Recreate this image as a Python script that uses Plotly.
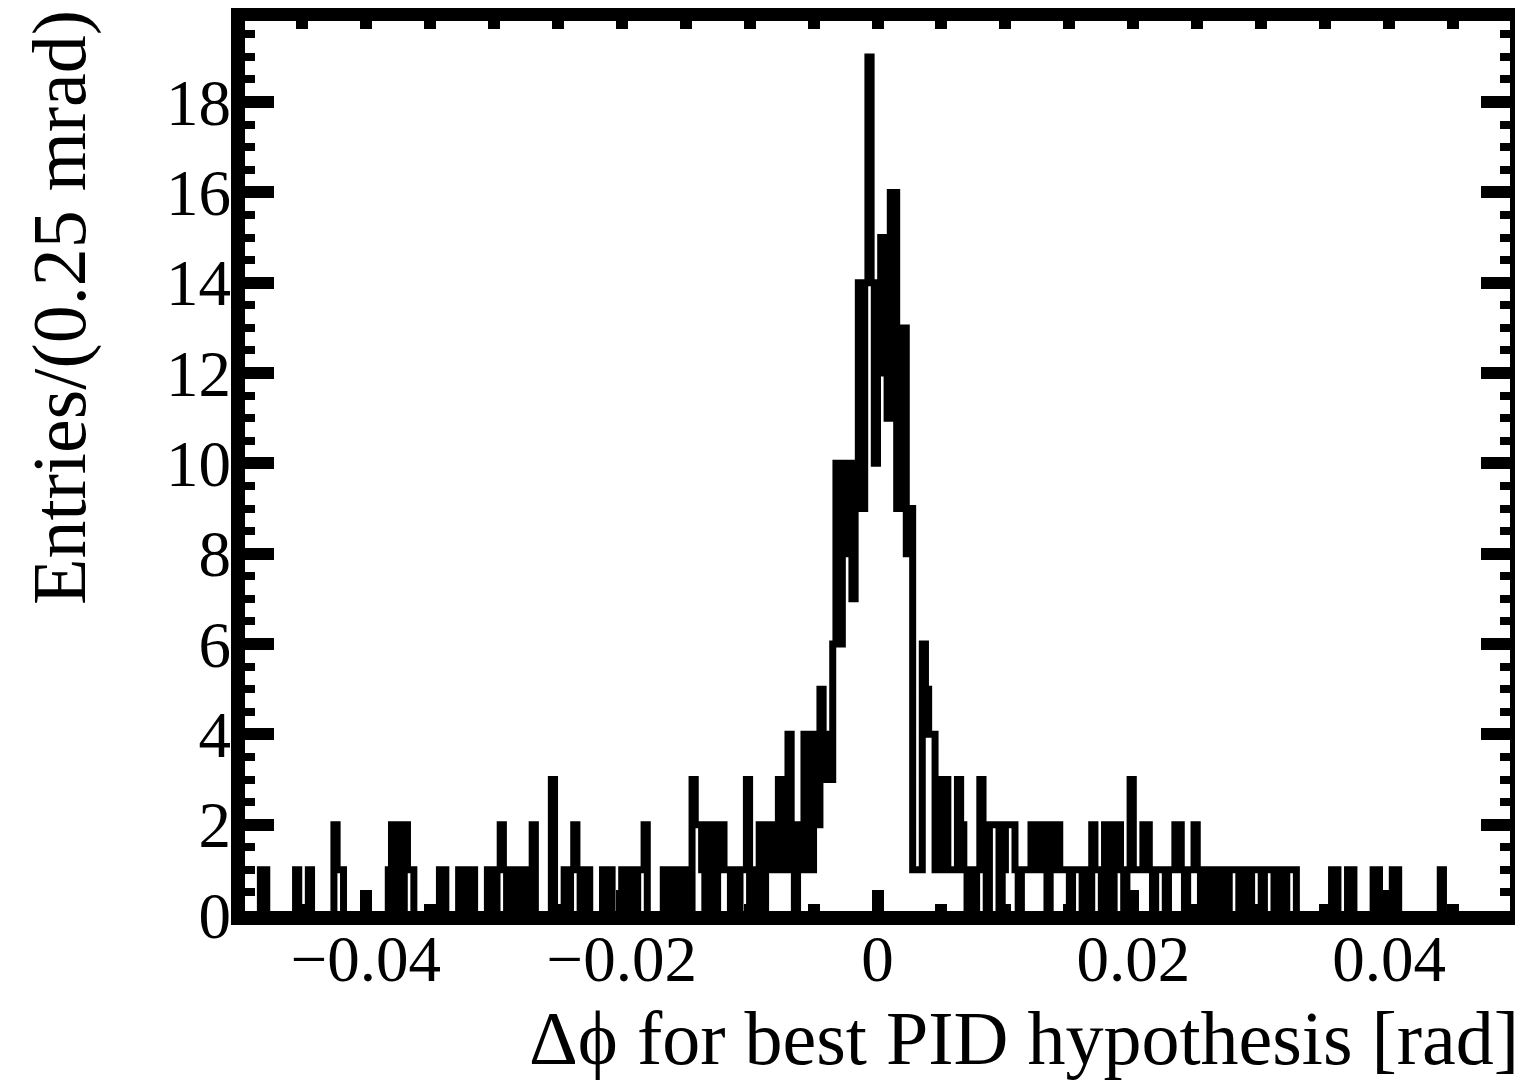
import numpy as np
import plotly.graph_objects as go

# ---------------- data: entries per 0.25 mrad bin, 400 bins in [-0.05, 0.05] ----------------
x_min, x_max = -0.05, 0.05
n_bins = 400

# bins 0..159
left_tail = [
    0, 0, 0, 0, 0, 0, 0, 1, 1, 0,
    0, 0, 0, 0, 0, 0, 0, 0, 1, 0,
    0, 0, 1, 0, 0, 0, 0, 0, 0, 0,
    2, 1, 1, 0, 0, 0, 0, 0, 0, 0,
    0, 0, 0, 0, 0, 0, 0, 1, 2, 0,
    2, 0, 2, 1, 1, 0, 0, 0, 0, 0,
    0, 0, 0, 1, 1, 0, 0, 0, 0, 1,
    1, 0, 1, 1, 0, 0, 0, 0, 1, 1,
    0, 1, 2, 1, 0, 1, 1, 0, 1, 1,
    0, 0, 2, 0, 0, 0, 0, 0, 3, 0,
    0, 0, 1, 0, 1, 2, 1, 0, 1, 1,
    0, 0, 0, 0, 1, 0, 1, 0, 0, 0,
    1, 0, 1, 1, 0, 1, 1, 2, 0, 0,
    0, 0, 0, 1, 0, 1, 1, 0, 1, 1,
    0, 0, 3, 2, 2, 1, 0, 2, 2, 0,
    2, 2, 1, 1, 0, 1, 0, 1, 1, 3,
]
# bins 160..229
core = [
    0, 1, 0, 2, 0, 2, 1, 2, 1, 3,
    1, 3, 4, 1, 0, 2, 1, 4, 3, 1,
    4, 2, 5, 3, 4, 3, 6, 10, 6, 10,
    8, 10, 7, 10, 14, 9, 14, 19, 14, 10,
    12, 15, 15, 11, 16, 16, 9, 13, 13, 8,
    9, 1, 1, 1, 6, 5, 4, 4, 1, 3,
    1, 3, 1, 1, 1, 3, 2, 1, 0, 1,
]
# bins 230..399
right_tail = [
    0, 1, 3, 2, 0, 2, 2, 2, 0, 1,
    2, 2, 2, 1, 0, 1, 1, 1, 2, 2,
    1, 2, 2, 0, 1, 2, 2, 1, 1, 1,
    0, 1, 1, 1, 0, 1, 0, 2, 1, 1,
    0, 2, 2, 0, 2, 2, 1, 0, 1, 3,
    1, 1, 1, 2, 2, 1, 0, 1, 1, 1,
    0, 1, 1, 2, 2, 1, 0, 1, 1, 2,
    1, 0, 1, 1, 0, 1, 1, 0, 1, 0,
    1, 1, 1, 0, 1, 1, 0, 1, 1, 1,
    0, 1, 1, 1, 0, 1, 1, 0, 1, 1,
    1, 0, 0, 0, 0, 0, 0, 0, 0, 0,
    0, 0, 1, 1, 0, 0, 0, 1, 1, 0,
    0, 0, 0, 0, 0, 1, 1, 0, 0, 0,
    0, 1, 1, 0, 0, 0, 0, 0, 0, 0,
    0, 0, 0, 0, 0, 0, 1, 0, 0, 0,
    0, 0, 0, 0, 0, 0, 0, 0, 0, 0,
    0, 0, 0, 0, 0, 0, 0, 0, 0, 0,
]

counts = left_tail + core + right_tail
assert len(counts) == n_bins

x_tick_vals = [-0.04, -0.02, 0, 0.02, 0.04]
x_tick_text = ["\u22120.04", "\u22120.02", "0", "0.02", "0.04"]
y_tick_vals = [0, 2, 4, 6, 8, 10, 12, 14, 16, 18]
x_title = "\u0394\u03d5 for best PID hypothesis [rad]"
y_title = "Entries/(0.25 mrad)"

# ---------------- figure ----------------
edges = np.linspace(x_min, x_max, n_bins + 1)
xs = [edges[0]] + list(edges[:-1]) + [edges[-1]]
ys = [0] + counts + [0]

# page body has an 8px margin, so the figure is laid out 8px smaller
W, H = 1515, 1077
ML, MR, MT, MB = 230, 6, 6, 170
plot_w = W - ML - MR
plot_h = H - MT - MB


def px_x(px):
    return (px - ML) / plot_w


def px_y(py):
    return (MT + plot_h - py) / plot_h


FONT = "Liberation Serif, Times New Roman, serif"

fig = go.Figure()
fig.add_trace(go.Scatter(
    x=xs, y=ys, mode="lines", line=dict(shape="hv", color="black", width=7),
    hoverinfo="skip", showlegend=False,
))
# invisible helper so the top (mirror) axis is drawn
fig.add_trace(go.Scatter(x=[x_min, x_max], y=[0, 0], xaxis="x2", mode="markers",
                         marker=dict(opacity=0), hoverinfo="skip", showlegend=False))

fig.update_layout(
    width=W, height=H,
    margin=dict(l=ML, r=MR, t=MT, b=MB, autoexpand=False),
    paper_bgcolor="white", plot_bgcolor="white",
    showlegend=False,
    xaxis=dict(
        range=[x_min, x_max], tickmode="array", tickvals=x_tick_vals, ticktext=x_tick_text,
        showgrid=False, zeroline=False, showline=False,
        ticks="inside", ticklen=25, tickwidth=12, tickcolor="black",
        minor=dict(dtick=0.005, tick0=0, ticks="inside", ticklen=11, tickwidth=12,
                   tickcolor="black", showgrid=False),
        tickfont=dict(family=FONT, size=65, color="black"),
        ticklabelstandoff=0,
    ),
    xaxis2=dict(
        overlaying="x", side="top", range=[x_min, x_max],
        tickmode="linear", tick0=0, dtick=0.005,
        showgrid=False, zeroline=False, showline=False, showticklabels=False,
        ticks="inside", ticklen=15, tickwidth=12, tickcolor="black",
    ),
    yaxis=dict(
        range=[0, 19.95], tickmode="array", tickvals=y_tick_vals,
        showgrid=False, zeroline=False, showline=False,
        ticks="inside", ticklen=36, tickwidth=12, tickcolor="black",
        mirror="ticks",
        minor=dict(dtick=0.5, tick0=0, ticks="inside", ticklen=17, tickwidth=8,
                   tickcolor="black", showgrid=False),
        tickfont=dict(family=FONT, size=65, color="black"),
        ticklabelstandoff=6,
    ),
)

# thick frame
fig.add_shape(type="rect", xref="paper", yref="paper",
              x0=0, x1=1, y0=-3 / plot_h, y1=1,
              line=dict(color="black", width=14), fillcolor="rgba(0,0,0,0)",
              layer="above")

# axis titles (ROOT style: x title right-aligned, y title top-aligned)
fig.add_annotation(text=x_title, xref="paper", yref="paper",
                   x=px_x(1513), y=px_y(1030),
                   xanchor="right", yanchor="middle", showarrow=False,
                   font=dict(family=FONT, size=76, color="black"))
fig.add_annotation(text=y_title, xref="paper", yref="paper",
                   x=px_x(51.5), y=px_y(0),
                   xanchor="center", yanchor="top", textangle=-90, showarrow=False,
                   font=dict(family=FONT, size=76, color="black"))

fig.write_html("out.html")
